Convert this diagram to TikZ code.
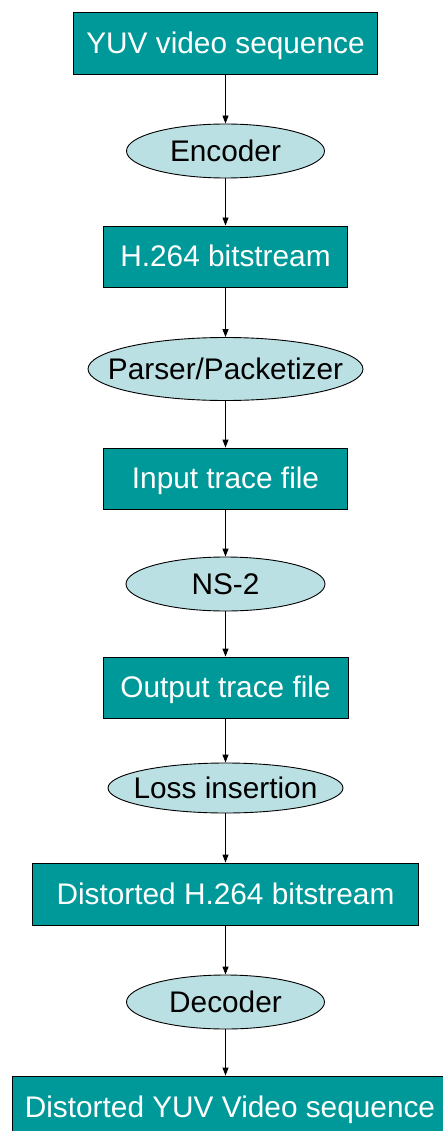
\documentclass[tikz,border=0pt]{standalone}
\usepackage{fontspec}
\setmainfont{Liberation Sans}
\usetikzlibrary{arrows.meta,shapes.geometric}
\definecolor{teal1}{HTML}{009999}
\definecolor{lightc}{HTML}{BBE0E3}
\tikzset{
  x=1pt, y=-1pt,
  txtfont/.style={font=\fontsize{29.8}{34}\selectfont, text height=24pt, text depth=3.4pt},
  boxnode/.style={draw=black, line width=0.9pt, fill=teal1, text=white, rectangle, inner sep=0pt, txtfont},
  ellnode/.style={draw=black, line width=0.9pt, fill=lightc, ellipse, inner sep=0pt,
    label={[txtfont, text=black, inner sep=0pt]center:#1}},
  conn/.style={draw=black, line width=0.9pt, -{Triangle[length=8pt,width=6pt]}}
}
\begin{document}
\begin{tikzpicture}
\useasboundingbox (0,0) rectangle (443,1131);
\clip (0,0) rectangle (443,1131);
\fill[white] (0,0) rectangle (443,1131);
\node[boxnode, minimum width=304pt, minimum height=62pt] (b1) at (225.5,43) {YUV video sequence};
\node[ellnode=Encoder, minimum width=198pt, minimum height=54pt] (e1) at (225.5,151) {};
\node[boxnode, minimum width=244pt, minimum height=61pt] (b2) at (225.5,256.5) {H.264 bitstream};
\node[ellnode=Parser/Packetizer, minimum width=275pt, minimum height=63pt] (e2) at (225.5,369) {};
\node[boxnode, minimum width=244pt, minimum height=61pt] (b3) at (225.5,478.5) {Input trace file};
\node[ellnode=NS-2, minimum width=199pt, minimum height=54pt] (e3) at (225.5,584) {};
\node[boxnode, minimum width=245pt, minimum height=61pt] (b4) at (225.5,687.5) {Output trace file};
\node[ellnode=Loss insertion, minimum width=235pt, minimum height=50pt] (e4) at (225.5,788) {};
\node[boxnode, minimum width=386pt, minimum height=62pt] (b5) at (225.5,894) {Distorted H.264 bitstream};
\node[ellnode=Decoder, minimum width=198pt, minimum height=54pt] (e5) at (225.5,1002) {};
\node[boxnode, minimum width=436pt, minimum height=62pt] (b6) at (230,1107) {Distorted YUV Video sequence};
\draw[conn] (b1.south) -- (e1.north);
\draw[conn] (e1.south) -- (b2.north);
\draw[conn] (b2.south) -- (e2.north);
\draw[conn] (e2.south) -- (b3.north);
\draw[conn] (b3.south) -- (e3.north);
\draw[conn] (e3.south) -- (b4.north);
\draw[conn] (b4.south) -- (e4.north);
\draw[conn] (e4.south) -- (b5.north);
\draw[conn] (b5.south) -- (e5.north);
\draw[conn] (e5.south) -- (b6.north -| e5.south);
\end{tikzpicture}
\end{document}
